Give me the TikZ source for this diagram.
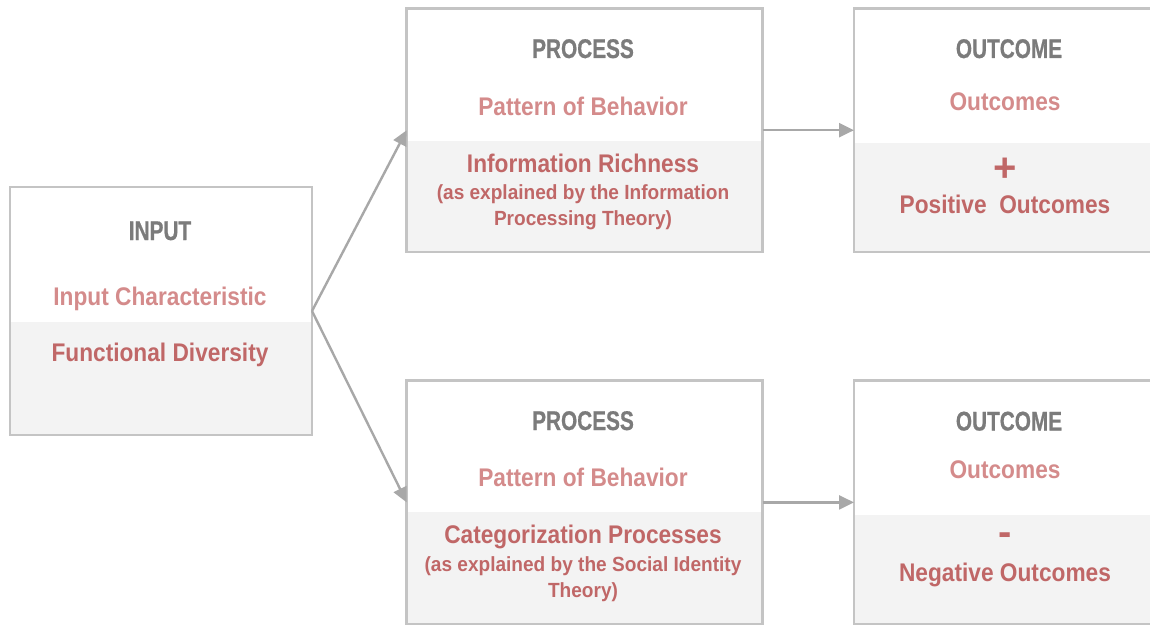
\documentclass[tikz,border=0pt]{standalone}
\usepackage{fontspec}
\setmainfont{Liberation Sans}
\newfontfamily\bodyfont[FakeStretch=0.89]{Liberation Sans}
\newfontfamily\notefont[FakeStretch=0.93]{Liberation Sans}
\newfontfamily\titfont[FakeStretch=0.77,FakeBold=0.6]{Liberation Sans}
\usetikzlibrary{arrows.meta,backgrounds}
\definecolor{titlegray}{HTML}{7B7B7B}
\definecolor{lightred}{HTML}{D48B8B}
\definecolor{darkred}{HTML}{C06767}
\definecolor{bandgray}{HTML}{F3F3F3}
\definecolor{boxline}{HTML}{C4C4C4}
\definecolor{arrowgray}{HTML}{A8A8A8}
\begin{document}
\begin{tikzpicture}[x=1pt,y=-1pt,
 box/.style={draw=boxline, line width=2.5pt, rectangle, inner sep=0pt, outer sep=0pt},
 ttl/.style={anchor=base, text=titlegray, inner sep=0pt, font=\titfont\bfseries\fontsize{27}{30}\selectfont},
 sub/.style={anchor=base, text=lightred, inner sep=0pt, font=\bodyfont\bfseries\fontsize{25.5}{30}\selectfont},
 mainline/.style={anchor=base, text=darkred, inner sep=0pt, font=\bodyfont\bfseries\fontsize{25.5}{30}\selectfont},
 note/.style={anchor=base, text=darkred, inner sep=0pt, font=\notefont\bfseries\fontsize{20.5}{24}\selectfont},
 sign/.style={anchor=base, text=darkred, inner sep=0pt, font=\bfseries\fontsize{40}{44}\selectfont},
 conn/.style={draw=arrowgray, line width=2.4pt, -{Triangle[length=15pt,width=14pt]}}
]
\useasboundingbox (0,0) rectangle (1150,626);

% boxes
\node[box, minimum width=302, minimum height=248] (input) at (161,311) {};
\node[box, minimum width=356, minimum height=243.5] (proc1) at (584.7,130.2) {};
\node[box, minimum width=356, minimum height=243.5] (proc2) at (584.7,502.4) {};
\node[box, minimum width=302, minimum height=243.5] (out1) at (1005,130.2) {};
\node[box, minimum width=302, minimum height=243.5] (out2) at (1005,502.4) {};

\begin{scope}[on background layer]
\fill[bandgray] (input.west |- 0,322) rectangle (input.south east);
\fill[bandgray] (proc1.west |- 0,140.5) rectangle (proc1.south east);
\fill[bandgray] (proc2.west |- 0,512) rectangle (proc2.south east);
\fill[bandgray] (out1.west |- 0,143) rectangle (out1.south east);
\fill[bandgray] (out2.west |- 0,515) rectangle (out2.south east);
\end{scope}

% input texts
\node[ttl] (inT) at (160,240) {INPUT};
\node[sub] (inS) at (160,305) {Input Characteristic};
\node[mainline] (inM) at (160,361.5) {Functional Diversity};

% process 1
\node[ttl] (p1T) at (583,58) {PROCESS};
\node[sub] (p1S) at (583,115) {Pattern of Behavior};
\node[mainline] (p1M) at (583,172) {Information Richness};
\node[note] (p1N1) at (583,199) {(as explained by the Information};
\node[note] (p1N2) at (583,225.5) {Processing Theory)};

% process 2
\node[ttl] (p2T) at (583,430) {PROCESS};
\node[sub] (p2S) at (583,486.5) {Pattern of Behavior};
\node[mainline] (p2M) at (583,543.3) {Categorization Processes};
\node[note] (p2N1) at (583,571.5) {(as explained by the Social Identity};
\node[note] (p2N2) at (583,597.5) {Theory)};

% outcome 1
\node[ttl] (o1T) at (1009,58) {OUTCOME};
\node[sub] (o1S) at (1005,110) {Outcomes};
\node[sign] (o1P) at (1005,181) {+};
\node[mainline] (o1M) at (1005,213) {Positive\ \ Outcomes};

% outcome 2
\node[ttl] (o2T) at (1009,430.5) {OUTCOME};
\node[sub] (o2S) at (1005,478) {Outcomes};
\node[sign] (o2P) at (1005,545) {-};
\node[mainline] (o2M) at (1005,581.7) {Negative Outcomes};

% connectors
\draw[conn] (input.east) -- (proc1.west);
\draw[conn] (input.east) -- (proc2.west);
\draw[conn] (proc1.east) -- (out1.west);
\draw[conn] (proc2.east) -- (out2.west);
\end{tikzpicture}
\end{document}
